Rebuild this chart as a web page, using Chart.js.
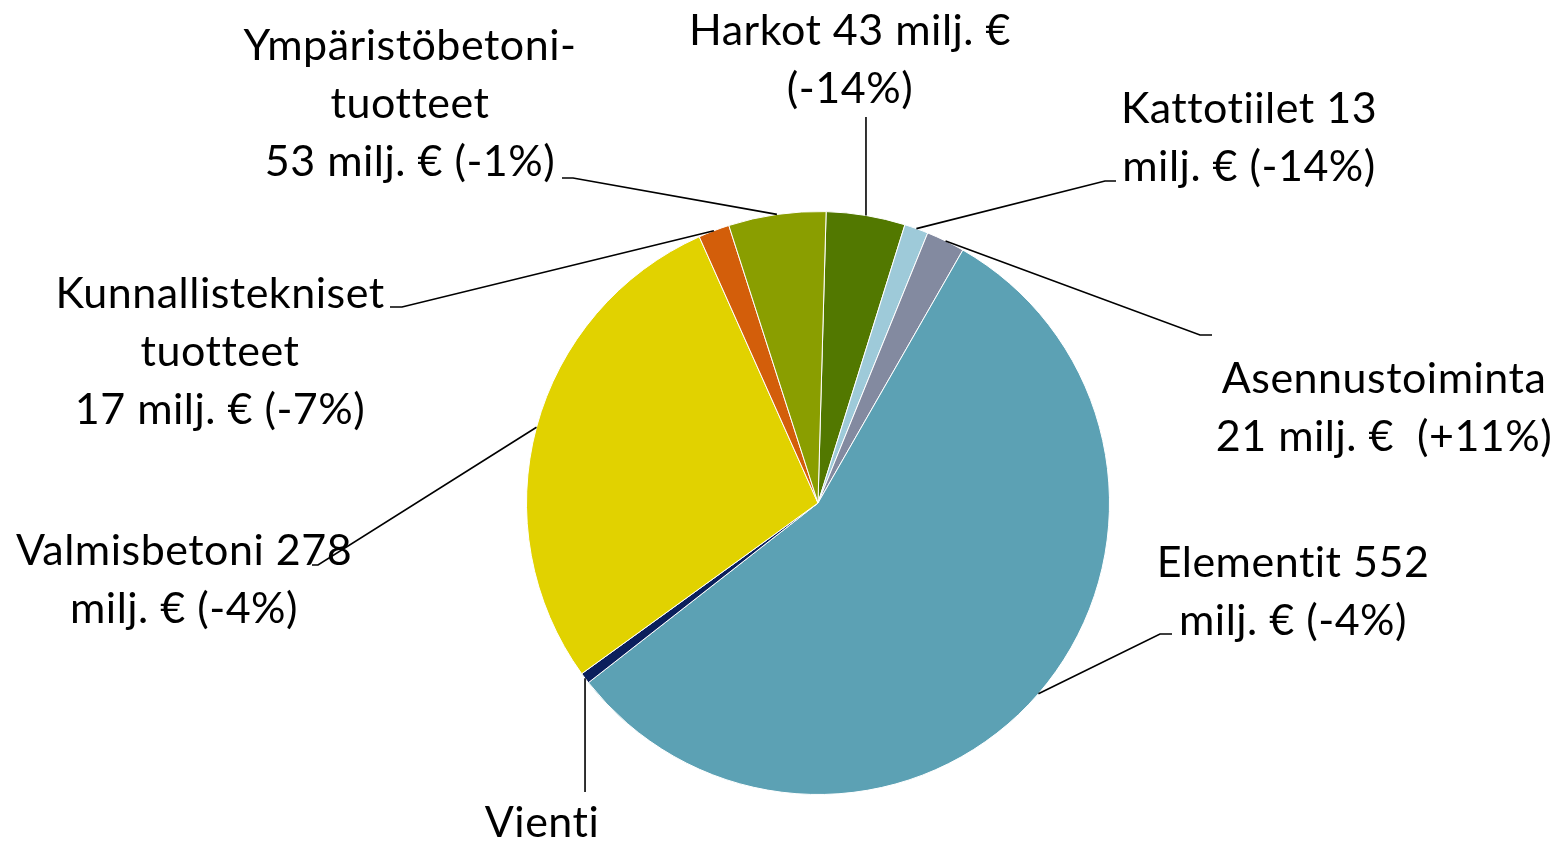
<!DOCTYPE html>
<html>
<head>
<meta charset="utf-8">
<script src="https://cdn.jsdelivr.net/npm/chart.js@4.4.1/dist/chart.umd.min.js"></script>
<style>
  html, body { margin: 0; padding: 0; background: #fff; }
  canvas { display: block; }
</style>
</head>
<body>
<canvas id="myChart" width="1554" height="841"></canvas>
<script>
// segments clockwise from the top
const categories = ['Harkot', 'Kattotiilet', 'Asennustoiminta', 'Elementit', 'Vienti', 'Valmisbetoni', 'Kunnallistekniset tuotteet', 'Ympäristöbetonituotteet'];
const values = [43, 13, 21, 552, 6, 278, 17, 53];
const labelLines = [
    ['Harkot 43 milj. €', '(-14%)'],
    ['Kattotiilet 13', 'milj. € (-14%)'],
    ['Asennustoiminta', '21 milj. €  (+11%)'],
    ['Elementit 552', 'milj. € (-4%)'],
    ['Vienti'],
    ['Valmisbetoni 278', 'milj. € (-4%)'],
    ['Kunnallistekniset', 'tuotteet', '17 milj. € (-7%)'],
    ['Ympäristöbetoni-', 'tuotteet', '53 milj. € (-1%)'],
];
const colors = ['#527800', '#9ecad9', '#838aa0', '#5ca1b4', '#0b1f5c', '#e1d200', '#d35e0a', '#8a9e00'];

// where each label sits and how its leader line bends
const labelLayout = [
    { cx: 850, base: 45, vertical: true, elbow: [0, 117] },
    { cx: 1249, base: 123, elbow: [1105, 181], tail: [1116, 181] },
    { cx: 1384, base: 393, elbow: [1200, 335], tail: [1212, 335] },
    { cx: 1293, base: 577, elbow: [1160, 634], tail: [1172, 634] },
    { cx: 542, base: 837, vertical: true, elbow: [0, 792] },
    { cx: 184, base: 565, elbow: [318, 565], tail: [312, 565] },
    { cx: 220, base: 308, elbow: [402, 307], tail: [390, 307] },
    { cx: 410, base: 60, elbow: [573, 178], tail: [562, 178] },
];

const FONT = '43px Lato';
const LINE_H = 58;

const leaderPlugin = {
    id: 'leaders',
    afterDatasetsDraw(chart) {
        const ctx = chart.ctx;
        const meta = chart.getDatasetMeta(0);
        ctx.save();
        meta.data.forEach((arc, i) => {
            const p = arc.getProps(['x', 'y', 'startAngle', 'endAngle', 'outerRadius'], true);
            const mid = (p.startAngle + p.endAngle) / 2;
            const px = p.x + Math.cos(mid) * p.outerRadius;
            const py = p.y + Math.sin(mid) * p.outerRadius;
            const L = labelLayout[i];

            ctx.strokeStyle = '#000';
            ctx.lineWidth = 1.6;
            ctx.beginPath();
            ctx.moveTo(px, py);
            if (L.vertical) {
                ctx.lineTo(px, L.elbow[1]);
            } else {
                ctx.lineTo(L.elbow[0], L.elbow[1]);
                ctx.lineTo(L.tail[0], L.tail[1]);
            }
            ctx.stroke();

            ctx.fillStyle = '#000';
            ctx.font = FONT;
            ctx.letterSpacing = '0.5px'; // also keeps "tt" from joining
            ctx.textAlign = 'center';
            ctx.textBaseline = 'alphabetic';
            labelLines[i].forEach((line, j) => {
                ctx.fillText(line, L.cx, L.base + j * LINE_H);
            });
        });
        ctx.restore();
    }
};

const ctx = document.getElementById('myChart').getContext('2d');

new Chart(ctx, {
    type: 'pie',
    data: {
        labels: categories,
        datasets: [
            {
                data: values,
                backgroundColor: colors,
                borderColor: '#ffffff',
                borderWidth: 1,
            },
        ],
    },
    options: {
        responsive: false,
        animation: false,
        rotation: 1.6,
        layout: {
            padding: { left: 526, right: 444, top: 211, bottom: 46 },
        },
        plugins: {
            legend: { display: false },
            tooltip: { enabled: false },
        },
    },
    plugins: [leaderPlugin],
});
</script>
</body>
</html>
